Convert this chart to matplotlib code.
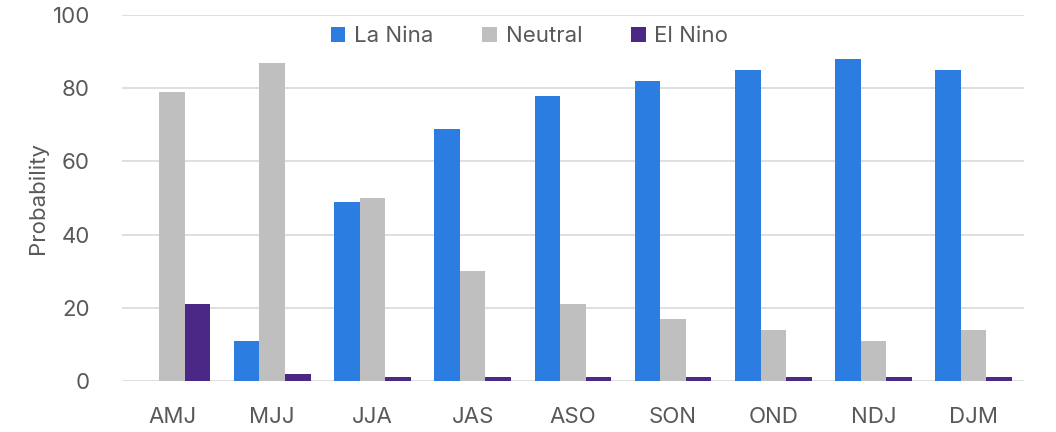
import numpy as np
import matplotlib.pyplot as plt

plt.rcParams['font.family'] = ['Inter', 'DejaVu Sans']

seasons = ['AMJ', 'MJJ', 'JJA', 'JAS', 'ASO', 'SON', 'OND', 'NDJ', 'DJM']
la_nina = [0, 11, 49, 69, 78, 82, 85, 88, 85]
neutral = [79, 87, 50, 30, 21, 17, 14, 11, 14]
el_nino = [21, 2, 1, 1, 1, 1, 1, 1, 1]

series = [('La Nina', la_nina, '#2b7de1'),
          ('Neutral', neutral, '#bfbfbf'),
          ('El Nino', el_nino, '#4b2886')]

text_color = '#595959'
fs = 16

fig = plt.figure(figsize=(10.56, 4.32), dpi=100)
ax = fig.add_axes([0.1155, 0.118, 0.854, 0.847])

x = np.arange(len(seasons))
w = 0.255
for i, (name, vals, col) in enumerate(series):
    ax.bar(x + (i - 1) * w, vals, width=w, color=col, label=name, zorder=3)

ax.set_xlim(-0.5, len(seasons) - 0.5)
ax.set_ylim(0, 100)
ax.set_yticks(range(0, 101, 20))
ax.set_xticks(x)
ax.set_xticklabels(seasons)
ax.yaxis.grid(True, color='#d9d9d9', linewidth=1.2, zorder=0)
for s in ax.spines.values():
    s.set_visible(False)
ax.tick_params(axis='both', length=0, labelsize=fs, colors=text_color)
ax.tick_params(axis='x', pad=19)
ax.tick_params(axis='y', pad=23)
ax.set_ylabel('Probability', fontsize=fs, color=text_color, labelpad=3)

leg = ax.legend(loc='upper center', bbox_to_anchor=(0.452, 1.025), ncol=3, frameon=False,
                fontsize=fs, handlelength=0.65, handleheight=0.65,
                handletextpad=0.4, columnspacing=2.2, labelcolor=text_color)

fig.savefig('out.png', dpi=100)
